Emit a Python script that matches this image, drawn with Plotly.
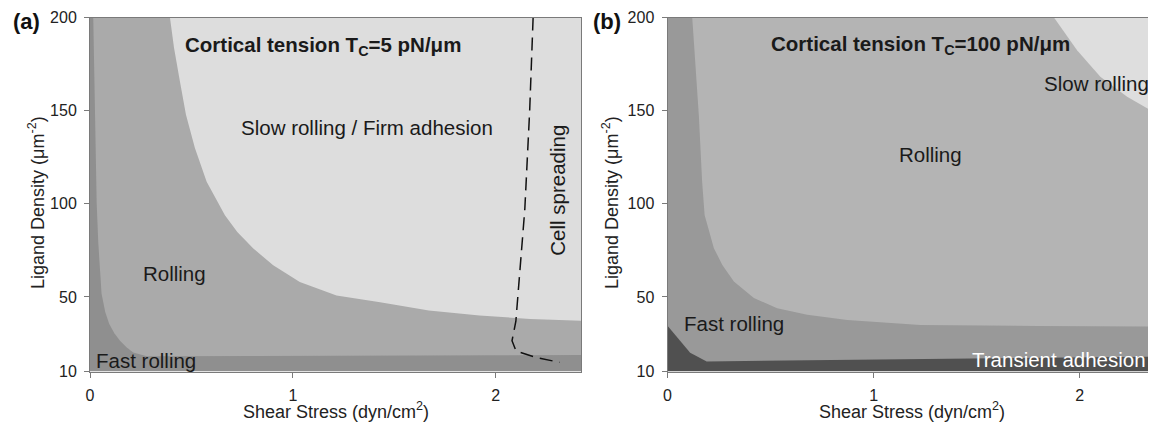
import plotly.graph_objects as go

# ---------------- data ----------------
# axis limits
X_MAX_A = 2.42
X_MAX_B = 2.37
Y_MIN = 10
Y_MAX = 200
X_TICKS = [0, 1, 2]
Y_TICKS = [10, 50, 100, 150, 200]

# Panel (a): Tc = 5 pN/um
# boundary fast rolling | rolling
a_fast_x = [0.016, 0.025, 0.033, 0.041, 0.057, 0.075, 0.095, 0.12, 0.148, 0.18, 0.213, 0.28, 1.0, 1.5, 2.0, 2.42]
a_fast_y = [200, 150, 100, 78.7, 51.7, 42.0, 35.5, 30.5, 26.5, 23.0, 20.2, 18.2, 18.3, 18.5, 18.7, 18.9]
# boundary rolling | slow rolling / firm adhesion
a_slow_x = [0.394, 0.414, 0.443, 0.473, 0.517, 0.575, 0.665, 0.726, 0.805, 0.903, 1.034, 1.215,
            1.43, 1.67, 1.92, 2.17, 2.42]
a_slow_y = [200, 183.8, 165.8, 147.8, 129.9, 111.9, 93.9, 84.9, 76.0, 67.0, 58.0, 50.8,
            47.2, 42.7, 40.0, 38.2, 37.3]
# cell spreading boundary (dashed)
a_spread_x = [2.184, 2.167, 2.143, 2.118, 2.099, 2.08, 2.10, 2.20, 2.315]
a_spread_y = [200, 150, 97, 61, 37, 26.5, 21.0, 17.5, 14.9]

# Panel (b): Tc = 100 pN/um
# boundary transient adhesion | fast rolling
b_trans_x = [0, 0.11, 0.19, 1.2, 2.37]
b_trans_y = [34.5, 20.0, 15.4, 16.6, 18.0]
# boundary fast rolling | rolling
b_fast_x = [0.120, 0.152, 0.168, 0.180, 0.225, 0.266, 0.322, 0.419, 0.532, 0.678, 0.872, 1.227, 1.8, 2.37]
b_fast_y = [200, 147.6, 111.9, 94.0, 76.2, 67.2, 58.3, 49.4, 44.0, 40.4, 37.7, 35.0, 34.4, 34.1]
# boundary rolling | slow rolling
b_slow_x = [1.875, 1.987, 2.10, 2.23, 2.37]
b_slow_y = [200, 182.4, 168.2, 157.5, 148.5]

# region colours
A_COLORS = {"fast": "#8f8f8f", "rolling": "#aaaaaa", "slow": "#dddddd"}
B_COLORS = {"trans": "#505050", "fast": "#999999", "rolling": "#b4b4b4", "slow": "#dedede"}

FONT = "Liberation Sans, Arial, sans-serif"
LBL = 20.5

fig = go.Figure()


def region(xs, ys, color, xa, ya):
    fig.add_trace(go.Scatter(
        x=xs, y=ys, mode="lines", fill="toself", fillcolor=color,
        line=dict(width=0, color=color), hoverinfo="skip", showlegend=False,
        xaxis=xa, yaxis=ya))


# ---- panel a ----
region([0, X_MAX_A, X_MAX_A, 0], [Y_MIN, Y_MIN, Y_MAX, Y_MAX], A_COLORS["fast"], "x", "y")
region(a_fast_x + [X_MAX_A], a_fast_y + [Y_MAX], A_COLORS["rolling"], "x", "y")
region(a_slow_x + [X_MAX_A], a_slow_y + [Y_MAX], A_COLORS["slow"], "x", "y")
fig.add_trace(go.Scatter(
    x=a_spread_x, y=a_spread_y, mode="lines",
    line=dict(color="#111111", width=1.5, dash="13px,7px"),
    hoverinfo="skip", showlegend=False, xaxis="x", yaxis="y"))

# ---- panel b ----
region([0, X_MAX_B, X_MAX_B, 0], [Y_MIN, Y_MIN, Y_MAX, Y_MAX], B_COLORS["trans"], "x2", "y2")
region(b_trans_x + [X_MAX_B, 0], b_trans_y + [Y_MAX, Y_MAX], B_COLORS["fast"], "x2", "y2")
region(b_fast_x + [X_MAX_B], b_fast_y + [Y_MAX], B_COLORS["rolling"], "x2", "y2")
region(b_slow_x + [X_MAX_B], b_slow_y + [Y_MAX], B_COLORS["slow"], "x2", "y2")

# page body adds an 8px offset; figure is sized/positioned to compensate
OFF = 8
W, H = 1156 - OFF, 442 - OFF


def px(v):
    return (v - OFF) / W


def py(v):
    return 1 - (v - OFF) / H


ydom = [py(371.5), py(17.5)]

axis_common = dict(
    showgrid=False, zeroline=False, showline=True, linecolor="#7a7a7a", linewidth=1,
    mirror=True, ticks="outside", ticklen=5, tickcolor="#7a7a7a", automargin=False,
    ticklabelstandoff=4,
    tickfont=dict(family=FONT, size=16, color="#222222"),
)

fig.update_layout(
    template="none",
    width=W, height=H,
    margin=dict(l=0, r=0, t=0, b=0, pad=0, autoexpand=False),
    paper_bgcolor="white", plot_bgcolor="white",
    font=dict(family=FONT, color="#222222"),
    showlegend=False,
    xaxis=dict(domain=[px(90), px(581)], range=[0, X_MAX_A], tickvals=X_TICKS,
               anchor="y", **axis_common),
    yaxis=dict(domain=ydom, range=[Y_MIN, Y_MAX], tickvals=Y_TICKS, anchor="x",
               **axis_common),
    xaxis2=dict(domain=[px(667.5), 1.0], range=[0, X_MAX_B], tickvals=X_TICKS,
                anchor="y2", **axis_common),
    yaxis2=dict(domain=ydom, range=[Y_MIN, Y_MAX], tickvals=Y_TICKS, anchor="x2",
                **axis_common),
)

ann = []


def text(x, y, s, xr, yr, size=LBL, bold=False, color="#1a1a1a", angle=0, xanchor="center"):
    if bold:
        s = "<b>" + s + "</b>"
    ann.append(dict(x=x, y=y, xref=xr, yref=yr, text=s, showarrow=False,
                    font=dict(family=FONT, size=size, color=color),
                    textangle=angle, xanchor=xanchor, yanchor="middle"))


# panel a labels
text(1.15, 184.5, "Cortical tension T<sub>C</sub>=5 pN/μm", "x", "y", bold=True)
text(1.365, 140.7, "Slow rolling / Firm adhesion", "x", "y")
text(0.414, 62.6, "Rolling", "x", "y")
text(0.277, 15.8, "Fast rolling", "x", "y")
text(2.30, 107.4, "Cell spreading", "x", "y", angle=-90)

# panel b labels
text(1.227, 185.0, "Cortical tension T<sub>C</sub>=100 pN/μm", "x2", "y2", bold=True)
text(2.083, 164.8, "Slow rolling", "x2", "y2")
text(1.275, 126.3, "Rolling", "x2", "y2")
text(0.322, 36.0, "Fast rolling", "x2", "y2")
text(1.90, 16.3, "Transient adhesion", "x2", "y2", color="#ffffff")

# axis titles
for xc in [(90 + 581) / 2, (667.5 + 1156) / 2]:
    ann.append(dict(x=px(xc), y=py(410), xref="paper", yref="paper",
                    text="Shear Stress (dyn/cm<sup>2</sup>)", showarrow=False,
                    font=dict(family=FONT, size=18, color="#222222"),
                    xanchor="center", yanchor="middle"))
for xp in [36, 610]:
    ann.append(dict(x=px(xp), y=py(203), xref="paper", yref="paper",
                    text="Ligand Density (μm<sup>-2</sup>)", showarrow=False,
                    textangle=-90,
                    font=dict(family=FONT, size=18, color="#222222"),
                    xanchor="center", yanchor="middle"))

# panel letters (anchored at top edge of the figure so they are not clipped)
for xp, s in [(26, "(a)"), (607, "(b)")]:
    ann.append(dict(x=px(xp), y=1.0, xref="paper", yref="paper",
                    text="<b>" + s + "</b>", showarrow=False, borderpad=0,
                    font=dict(family=FONT, size=22, color="#111111"),
                    xanchor="center", yanchor="top"))

fig.update_layout(annotations=ann)

fig.write_html("out.html")
